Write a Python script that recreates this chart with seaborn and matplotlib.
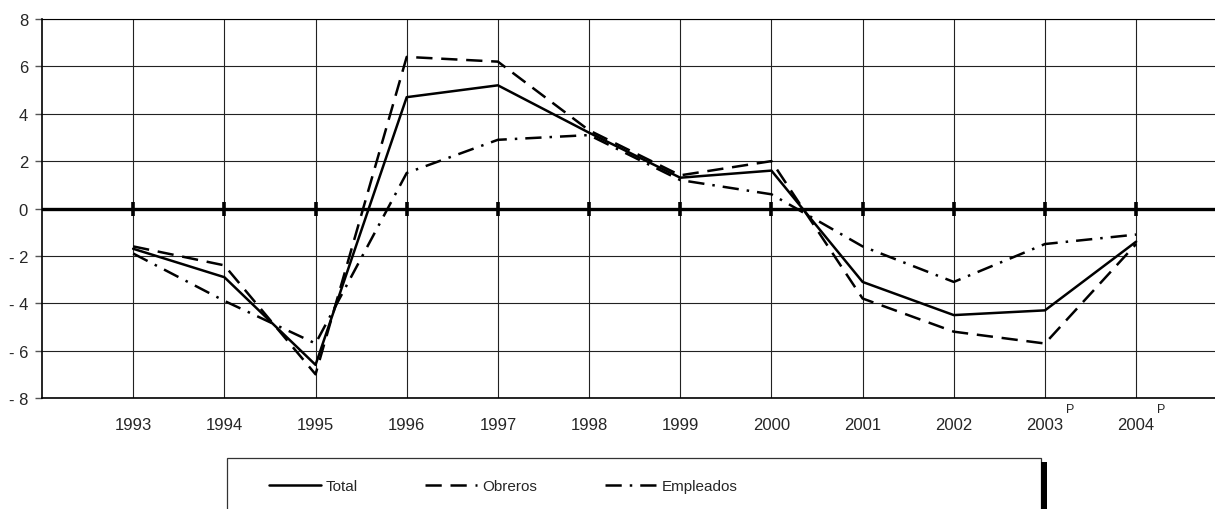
import pandas as pd
import matplotlib.pyplot as plt
import seaborn as sns
from matplotlib.patches import Rectangle
from matplotlib.ticker import FuncFormatter

years = [1993, 1994, 1995, 1996, 1997, 1998, 1999, 2000, 2001, 2002, 2003, 2004]
year_labels = ['1993', '1994', '1995', '1996', '1997', '1998', '1999', '2000',
               '2001', '2002', '2003', '2004']
provisional = [2003, 2004]
total = [-1.7, -2.9, -6.6, 4.7, 5.2, 3.2, 1.3, 1.6, -3.1, -4.5, -4.3, -1.4]
obreros = [-1.6, -2.4, -7.0, 6.4, 6.2, 3.3, 1.4, 2.0, -3.8, -5.2, -5.7, -1.5]
empleados = [-1.9, -3.9, -5.7, 1.5, 2.9, 3.1, 1.2, 0.6, -1.6, -3.1, -1.5, -1.1]
series_names = ['Total', 'Obreros', 'Empleados']


def build_frame():
    parts = []
    for name, vals in zip(series_names, [total, obreros, empleados]):
        parts.append(pd.DataFrame({'year': years, 'value': vals, 'serie': name}))
    return pd.concat(parts, ignore_index=True)


def neg_fmt(v, pos):
    v = int(round(v))
    return f'- {abs(v)}' if v < 0 else f'{v}'


def main():
    sns.set_style('white')
    plt.rcParams['font.family'] = ['Liberation Sans', 'DejaVu Sans']

    df = build_frame()

    fig = plt.figure(figsize=(12.15, 5.1), dpi=100)
    ax = fig.add_axes([42 / 1215, 1 - 399 / 510, 1 - 42 / 1215, (399 - 20) / 510])

    ax.set_xlim(1992, 2004.865)
    ax.set_ylim(-8, 8)
    ax.set_yticks(range(-8, 9, 2))
    ax.set_xticks(years)
    ax.set_xticklabels(year_labels)
    ax.yaxis.set_major_formatter(FuncFormatter(neg_fmt))

    ax.grid(True, color='#222222', linewidth=0.8)
    ax.set_axisbelow(True)
    ax.tick_params(axis='x', length=0, pad=14, labelsize=12)
    ax.tick_params(axis='y', length=5, width=1, color='#555555', pad=5, labelsize=12, left=True)

    for side in ['left', 'bottom', 'top']:
        ax.spines[side].set_color('black')
        ax.spines[side].set_linewidth(1.2)
    ax.spines['top'].set_linewidth(0.8)
    ax.spines['right'].set_visible(False)

    # zero line with small tick marks at each year
    ax.axhline(0, color='black', linewidth=2.4, zorder=3)
    ax.plot(years, [0] * len(years), linestyle='none', marker='|',
            markersize=10, markeredgewidth=2.6, color='black', zorder=3)

    sns.lineplot(data=df, x='year', y='value', style='serie', color='black',
                 linewidth=1.8, ax=ax, zorder=4, style_order=series_names,
                 dashes={'Total': '', 'Obreros': (6.5, 3.5), 'Empleados': (6.5, 3.2, 1, 3.2)})
    ax.set_xlabel('')
    ax.set_ylabel('')

    for yr in provisional:
        ax.annotate('P', xy=(yr, 0), xycoords=ax.get_xaxis_transform(),
                    xytext=(18, -8), textcoords='offset points',
                    ha='center', va='center', fontsize=9)

    handles, labels = ax.get_legend_handles_labels()
    ax.get_legend().remove()
    fig.legend(handles, labels, loc='center left', bbox_to_anchor=(261 / 1215, 1 - 487 / 510),
               ncol=3, frameon=False, borderpad=0, handlelength=3.4, handletextpad=0.35,
               columnspacing=4.4, prop={'size': 11})

    fig.add_artist(Rectangle((227 / 1215, -0.1), (1041 - 227) / 1215, 0.1 + 51 / 510,
                             transform=fig.transFigure, fill=False, edgecolor='#333333', linewidth=0.9))
    fig.add_artist(Rectangle((1041 / 1215, -0.1), 6 / 1215, 0.1 + 47 / 510,
                             transform=fig.transFigure, facecolor='black', edgecolor='none'))

    fig.savefig('out.png', dpi=100)


if __name__ == "__main__":
    main()
